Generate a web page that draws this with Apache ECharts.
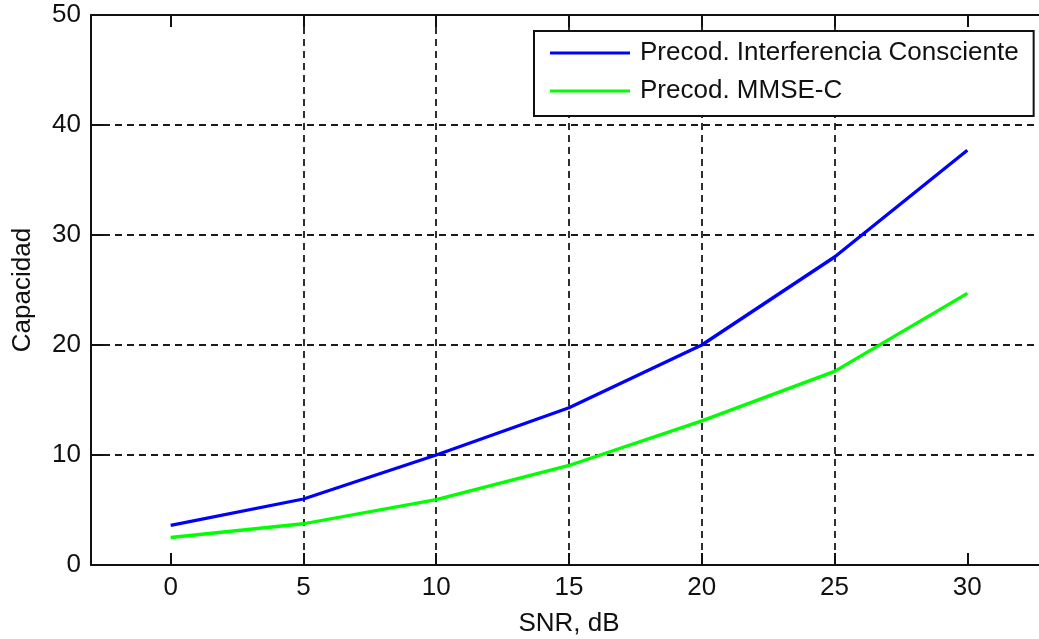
<!DOCTYPE html>
<html>
<head>
<meta charset="utf-8">
<script src="https://cdn.jsdelivr.net/npm/echarts@6/dist/echarts.min.js"></script>
<style>
  html, body { margin: 0; padding: 0; background: #ffffff; }
  #chart { width: 1039px; height: 639px; }
</style>
</head>
<body>
<div id="chart"></div>
<script>
// SNR values (dB) at which capacity was evaluated
const snr = [0, 5, 10, 15, 20, 25, 30];
// Capacity for each precoder
const capInterferencia = [3.6, 6.0, 10.0, 14.3, 20.0, 28.0, 37.7];
const capMMSE = [2.5, 3.75, 5.95, 9.05, 13.1, 17.6, 24.7];
// Tick positions
const xTicks = [0, 5, 10, 15, 20, 25, 30];
const seriesNames = ['Precod. Interferencia Consciente', 'Precod. MMSE-C'];

const FONT = 'Liberation Sans, Arial, sans-serif';
const pair = (xs, ys) => xs.map((x, i) => [x, ys[i]]);

const chart = echarts.init(document.getElementById('chart'), null, { renderer: 'canvas' });

const gridLine = { show: true, lineStyle: { color: '#1a1a1a', width: 1.8, type: [7, 5] } };

chart.setOption({
  animation: false,
  backgroundColor: '#ffffff',
  grid: { left: 91, top: 15, width: 956, height: 550, containLabel: false, outerBoundsMode: 'none' },
  legend: {
    orient: 'vertical',
    left: 534,
    top: 31,
    padding: [7, 15, 10, 16],
    itemGap: 8,
    itemWidth: 80,
    itemHeight: 3,
    icon: 'rect',
    backgroundColor: '#ffffff',
    borderColor: '#111',
    borderWidth: 2,
    borderRadius: 0,
    textStyle: { fontFamily: FONT, fontSize: 26, color: '#111', lineHeight: 30, padding: [0, 0, 0, 5] },
    data: seriesNames
  },
  xAxis: [
    {
      type: 'value',
      min: -3,
      max: 33,
      name: 'SNR, dB',
      nameLocation: 'middle',
      nameGap: 46,
      nameTextStyle: { fontFamily: FONT, fontSize: 26, color: '#111' },
      axisLine: { show: true, onZero: false, lineStyle: { color: '#111', width: 2 } },
      axisTick: { show: true, inside: true, length: 12, customValues: xTicks, lineStyle: { color: '#111', width: 2 } },
      axisLabel: { customValues: xTicks, margin: 10, fontFamily: FONT, fontSize: 26, color: '#111' },
      splitLine: Object.assign({ showMinLine: false, showMaxLine: false }, gridLine)
    },
    {
      type: 'value',
      position: 'top',
      min: -3,
      max: 33,
      axisLine: { show: true, onZero: false, lineStyle: { color: '#111', width: 2 } },
      axisTick: { show: true, inside: true, length: 12, customValues: xTicks, lineStyle: { color: '#111', width: 2 } },
      axisLabel: { show: false },
      splitLine: { show: false }
    }
  ],
  yAxis: {
    type: 'value',
    min: 0,
    max: 50,
    interval: 10,
    name: 'Capacidad',
    nameLocation: 'middle',
    nameGap: 55,
    nameRotate: 90,
    nameTextStyle: { fontFamily: FONT, fontSize: 26, color: '#111' },
    axisLine: { show: true, onZero: false, lineStyle: { color: '#111', width: 2 } },
    axisTick: { show: true, inside: true, length: 12, lineStyle: { color: '#111', width: 2 } },
    axisLabel: { margin: 10, fontFamily: FONT, fontSize: 26, color: '#111' },
    splitLine: Object.assign({ showMinLine: false, showMaxLine: false }, gridLine)
  },
  series: [
    {
      name: seriesNames[0],
      type: 'line',
      data: pair(snr, capInterferencia),
      symbol: 'none',
      lineStyle: { color: '#0000ff', width: 3.3 },
      itemStyle: { color: '#0000ff' },
      z: 5
    },
    {
      name: seriesNames[1],
      type: 'line',
      data: pair(snr, capMMSE),
      symbol: 'none',
      lineStyle: { color: '#00ff00', width: 3.3 },
      itemStyle: { color: '#00ff00' },
      z: 5
    }
  ]
});
</script>
</body>
</html>
